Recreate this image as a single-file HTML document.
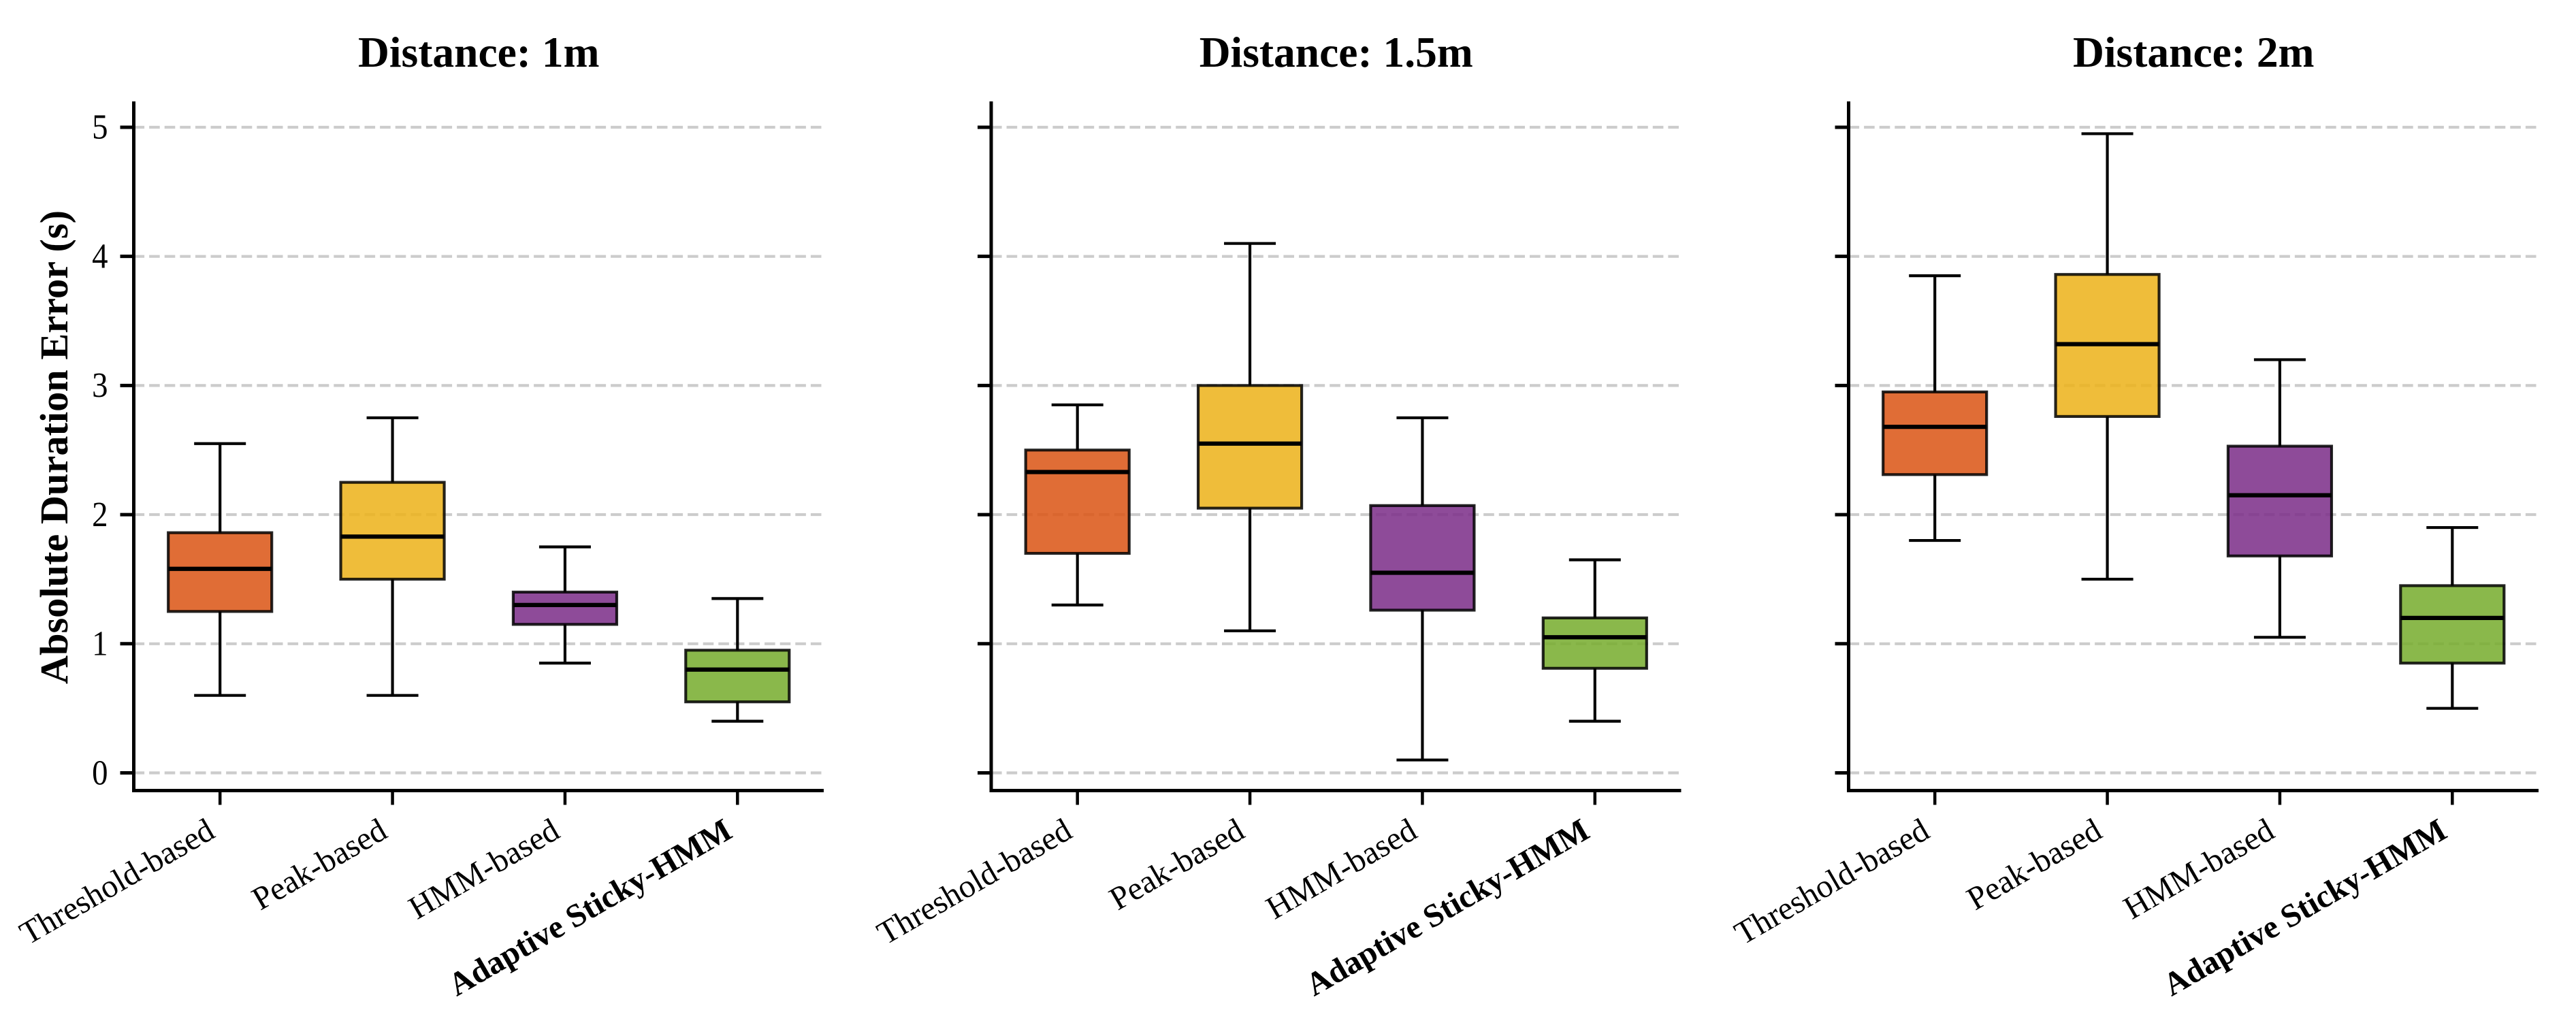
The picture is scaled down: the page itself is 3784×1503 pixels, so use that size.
<!DOCTYPE html>
<html lang="en">
<head>
<meta charset="utf-8">
<title>Absolute Duration Error by Distance</title>
<style>
  html, body { margin: 0; padding: 0; background: #fff; }
  svg { display: block; font-family: "Liberation Serif", serif; }
</style>
</head>
<body>
<svg id="chart" xmlns="http://www.w3.org/2000/svg" width="3784" height="1503" viewBox="0 0 3784 1503"></svg>
<script>
const panelTitles = ["Distance: 1m", "Distance: 1.5m", "Distance: 2m"];
const categories = ["Threshold-based", "Peak-based", "HMM-based", "Adaptive Sticky-HMM"];
const yTicks = [0, 1, 2, 3, 4, 5];
const yAxisTitle = "Absolute Duration Error (s)";

const whiskerLow = [
  [0.6, 0.6, 0.85, 0.4],
  [1.3, 1.1, 0.1, 0.4],
  [1.8, 1.5, 1.05, 0.5]
];
const quartile1 = [
  [1.25, 1.5, 1.15, 0.55],
  [1.7, 2.05, 1.26, 0.81],
  [2.31, 2.76, 1.68, 0.85]
];
const medians = [
  [1.58, 1.83, 1.3, 0.8],
  [2.33, 2.55, 1.55, 1.05],
  [2.68, 3.32, 2.15, 1.2]
];
const quartile3 = [
  [1.86, 2.25, 1.4, 0.95],
  [2.5, 3.0, 2.07, 1.2],
  [2.95, 3.86, 2.53, 1.45]
];
const whiskerHigh = [
  [2.55, 2.75, 1.75, 1.35],
  [2.85, 4.1, 2.75, 1.65],
  [3.85, 4.95, 3.2, 1.9]
];

const boxColors = ["#DB5413", "#ECB217", "#7A2C87", "#75AB2B"];
const NS = "http://www.w3.org/2000/svg";
const svg = document.getElementById("chart");
const panelLefts = [196.5, 1456, 2715.5];
const plotWidth = 1013.5;
const plotTop = 149;
const plotBottom = 1161.5;
const xMin = 0.5, xMax = 4.5;
const yMin = -0.137, yMax = 5.2;

function yScale(v) {
  return plotBottom - (v - yMin) / (yMax - yMin) * (plotBottom - plotTop);
}
function xScale(i, left) {
  return left + ((i + 1) - xMin) / (xMax - xMin) * plotWidth;
}
function make(tag, attrs, parent) {
  const el = document.createElementNS(NS, tag);
  for (const k in attrs) el.setAttribute(k, attrs[k]);
  parent.appendChild(el);
  return el;
}

panelTitles.forEach((title, p) => {
  const left = panelLefts[p];
  const right = left + plotWidth;
  const slug = ["1m", "1-5m", "2m"][p];

  const g = make("g", {}, svg);
  
  

  // grid
  yTicks.forEach(t => {
    const grid = make("line", {
      x1: left, x2: right - 2, y1: yScale(t), y2: yScale(t),
      stroke: "#cccccc", "stroke-width": 4.17, "stroke-dasharray": "15.6 7"
    }, g);
    
    
  });

  // boxes
  categories.forEach((cat, i) => {
    const cx = xScale(i, left);
    const boxW = 0.6 / (xMax - xMin) * plotWidth;
    const capW = 0.3 / (xMax - xMin) * plotWidth;
    const box = make("g", {}, g);
    
    

    const lowLine = make("line", {
      x1: cx, x2: cx, y1: yScale(quartile1[p][i]), y2: yScale(whiskerLow[p][i]),
      stroke: "#000", "stroke-width": 4.17
    }, box);
    
    

    const highLine = make("line", {
      x1: cx, x2: cx, y1: yScale(quartile3[p][i]), y2: yScale(whiskerHigh[p][i]),
      stroke: "#000", "stroke-width": 4.17
    }, box);
    
    

    const lowCap = make("line", {
      x1: cx - capW / 2, x2: cx + capW / 2, y1: yScale(whiskerLow[p][i]), y2: yScale(whiskerLow[p][i]),
      stroke: "#000", "stroke-width": 4.17
    }, box);
    
    

    const highCap = make("line", {
      x1: cx - capW / 2, x2: cx + capW / 2, y1: yScale(whiskerHigh[p][i]), y2: yScale(whiskerHigh[p][i]),
      stroke: "#000", "stroke-width": 4.17
    }, box);
    
    

    const rect = make("rect", {
      x: cx - boxW / 2, y: yScale(quartile3[p][i]), width: boxW,
      height: yScale(quartile1[p][i]) - yScale(quartile3[p][i]),
      fill: boxColors[i], "fill-opacity": 0.85,
      stroke: "#000", "stroke-opacity": 0.85, "stroke-width": 4.17
    }, box);
    
    

    const med = make("line", {
      x1: cx - boxW / 2, x2: cx + boxW / 2, y1: yScale(medians[p][i]), y2: yScale(medians[p][i]),
      stroke: "#000", "stroke-width": 6.25
    }, box);
    
    
  });

  // spines
  const spineL = make("line", {
    x1: left, x2: left, y1: plotTop, y2: plotBottom + 2.5, stroke: "#000", "stroke-width": 5
  }, g);
  
  

  const spineB = make("line", {
    x1: left - 2.5, x2: right, y1: plotBottom, y2: plotBottom, stroke: "#000", "stroke-width": 5
  }, g);
  
  

  // y ticks
  yTicks.forEach(t => {
    const tick = make("line", {
      x1: left - 20, x2: left, y1: yScale(t), y2: yScale(t), stroke: "#000", "stroke-width": 5
    }, g);
    
    

    if (p === 0) {
      const lab = make("text", {
        x: 0, y: 0, "text-anchor": "end",
        "font-size": 52, fill: "#000",
        transform: "translate(" + (left - 38) + " " + (yScale(t) + 16.8) + ") scale(0.9 1)"
      }, g);
      lab.textContent = String(t);
      
      
    }
  });

  // x ticks and labels
  categories.forEach((cat, i) => {
    const cx = xScale(i, left);
    const tick = make("line", {
      x1: cx, x2: cx, y1: plotBottom, y2: plotBottom + 21, stroke: "#000", "stroke-width": 4.5
    }, g);
    
    

    const ax = cx - 5, ay = 1229;
    const lab = make("text", {
      x: ax, y: ay, "text-anchor": "end", "font-size": 48, fill: "#000",
      transform: "rotate(-30 " + ax + " " + ay + ")"
    }, g);
    if (i === categories.length - 1) lab.setAttribute("font-weight", "bold");
    lab.textContent = cat;
    
    
  });

  // title
  const t = make("text", {
    x: left + plotWidth / 2, y: 98, "text-anchor": "middle",
    "font-size": 63.5, "font-weight": "bold", fill: "#000"
  }, g);
  t.textContent = title;
  
  
});

const yTitle = make("text", {
  x: 99, y: 657, "text-anchor": "middle", "font-size": 58.33, "font-weight": "bold", fill: "#000",
  transform: "rotate(-90 99 657)"
}, svg);
yTitle.textContent = yAxisTitle;


</script>
</body>
</html>
